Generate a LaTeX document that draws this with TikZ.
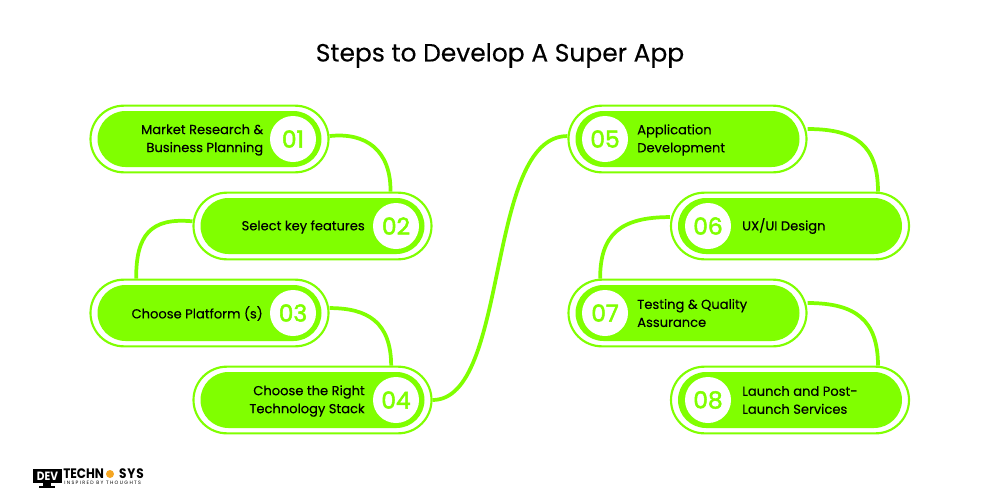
\documentclass[tikz,border=0pt]{standalone}
\usepackage{fontspec}
\setmainfont{Poppins}
\newfontfamily\stepfont{Poppins}[FakeBold=0.25]
\newfontfamily\numfont{Poppins}[FakeBold=2.2]
\newfontfamily\logofont{Poppins}[FakeStretch=0.88]
\usetikzlibrary{shapes.misc,calc}
\definecolor{limegreen}{HTML}{80FF00}
\definecolor{logogold}{HTML}{F5A623}
\tikzset{
	outerpill/.style={rounded rectangle,draw=limegreen,line width=1.6pt,fill=white,minimum width=178.5pt,minimum height=50pt,inner sep=0pt},
	innerpill/.style={rounded rectangle,fill=limegreen,minimum width=168pt,minimum height=42pt,inner sep=0pt},
	numdisc/.style={circle,fill=white,text=limegreen,minimum size=34.5pt,inner sep=0pt,font=\fontsize{17.5}{20}\numfont},
	steptext/.style={text=black,font=\fontsize{9.8}{13.5}\stepfont,inner sep=0pt},
	link/.style={draw=limegreen,line width=2.8pt}
}
\begin{document}
\begin{tikzpicture}[x=0.75pt,y=-0.75pt]
	\useasboundingbox (0,0) rectangle (1000,500);
	\fill[white] (0,0) rectangle (1000,500);
	\node[font=\fontsize{18.7}{24}\stepfont] (title) at (500,55.5) {Steps to Develop A Super App};
	% connectors first, the pills sit on top
	\node[outerpill] (o01) at (209.5,139) {};
	\node[outerpill] (o02) at (312.5,226) {};
	\node[outerpill] (o03) at (209.5,313) {};
	\node[outerpill] (o04) at (312.5,400) {};
	\node[outerpill] (o05) at (687.5,139) {};
	\node[outerpill] (o06) at (790,226) {};
	\node[outerpill] (o07) at (687.5,313) {};
	\node[outerpill] (o08) at (790,400) {};
	\draw[link] ([yshift=2.2pt]o01.east) .. controls +(36,-4) and (391,150) .. ([xshift=58.5pt]o02.north);
	\draw[link] ([yshift=3.5pt]o02.west) .. controls +(-42,-4) and (136,235) .. ([xshift=-55pt]o03.north);
	\draw[link] ([yshift=3.7pt]o03.east) .. controls +(38,0) and (391,322) .. ([xshift=59pt]o04.north);
	\draw[link] (o04.east) .. controls (510,400) and (485,136) .. ([yshift=2.2pt]o05.west);
	\draw[link] ([yshift=7.5pt]o05.east) .. controls +(48,0) and (878,145) .. ([xshift=66pt]o06.north);
	\draw[link] ([yshift=6.7pt]o06.west) .. controls +(-50,0) and (600,235) .. ([xshift=-65.5pt]o07.north);
	\draw[link] ([yshift=7.5pt]o07.east) .. controls +(48,0) and (878,320) .. ([xshift=66pt]o08.north);
	\node[innerpill] (i01) at (o01) {};
	\node[innerpill] (i02) at (o02) {};
	\node[innerpill] (i03) at (o03) {};
	\node[innerpill] (i04) at (o04) {};
	\node[innerpill] (i05) at (o05) {};
	\node[innerpill] (i06) at (o06) {};
	\node[innerpill] (i07) at (o07) {};
	\node[innerpill] (i08) at (o08) {};
	\node[numdisc] (n01) at (293,139) {01};
	\node[numdisc] (n02) at (396,226) {02};
	\node[numdisc] (n03) at (293,313) {03};
	\node[numdisc] (n04) at (396,400) {04};
	\node[numdisc] (n05) at (605,139) {05};
	\node[numdisc] (n06) at (708,226) {06};
	\node[numdisc] (n07) at (605,313) {07};
	\node[numdisc] (n08) at (708,400) {08};
	\node[steptext,align=right,anchor=east] (t01) at (263.5,140) {Market Research \&\\Business Planning};
	\node[steptext,anchor=east] (t02) at (365,227) {Select key features};
	\node[steptext,anchor=east] (t03) at (263,313.5) {Choose Platform (s)};
	\node[steptext,align=right,anchor=east] (t04) at (365,401) {Choose the Right\\Technology Stack};
	\node[steptext,align=left,anchor=west] (t05) at (637,140) {Application\\Development};
	\node[steptext,anchor=west] (t06) at (742,226) {UX/UI Design};
	\node[steptext,align=left,anchor=west] (t07) at (637,313) {Testing \& Quality\\Assurance};
	\node[steptext,align=left,anchor=west] (t08) at (742,400) {Launch and Post-\\Launch Services};
	% logo
	\fill[black] (33,469) rectangle (62,483);
	\fill[black] (43,483) rectangle (51,486);
	\fill[black] (39,486) rectangle (55,487.5);
	\node[text=white,font=\fontsize{9}{9}\logofont\bfseries,inner sep=0pt] (logodev) at (47.5,476) {DEV};
	\node[anchor=west,font=\fontsize{10.3}{9}\logofont\bfseries,inner sep=0pt] (logotech) at (63,473.5) {TECHN};
	\fill[logogold] (110,474) circle (4);
	\node[anchor=east,font=\fontsize{10.3}{9}\logofont\bfseries\addfontfeatures{LetterSpace=6},inner sep=0pt] (logosys) at (144,473.5) {SYS};
	\node[anchor=west,font=\fontsize{3.6}{4}\selectfont\addfontfeatures{LetterSpace=28},inner sep=0pt] (logotag) at (64,482.5) {INSPIRED BY THOUGHTS};
\end{tikzpicture}
\end{document}
